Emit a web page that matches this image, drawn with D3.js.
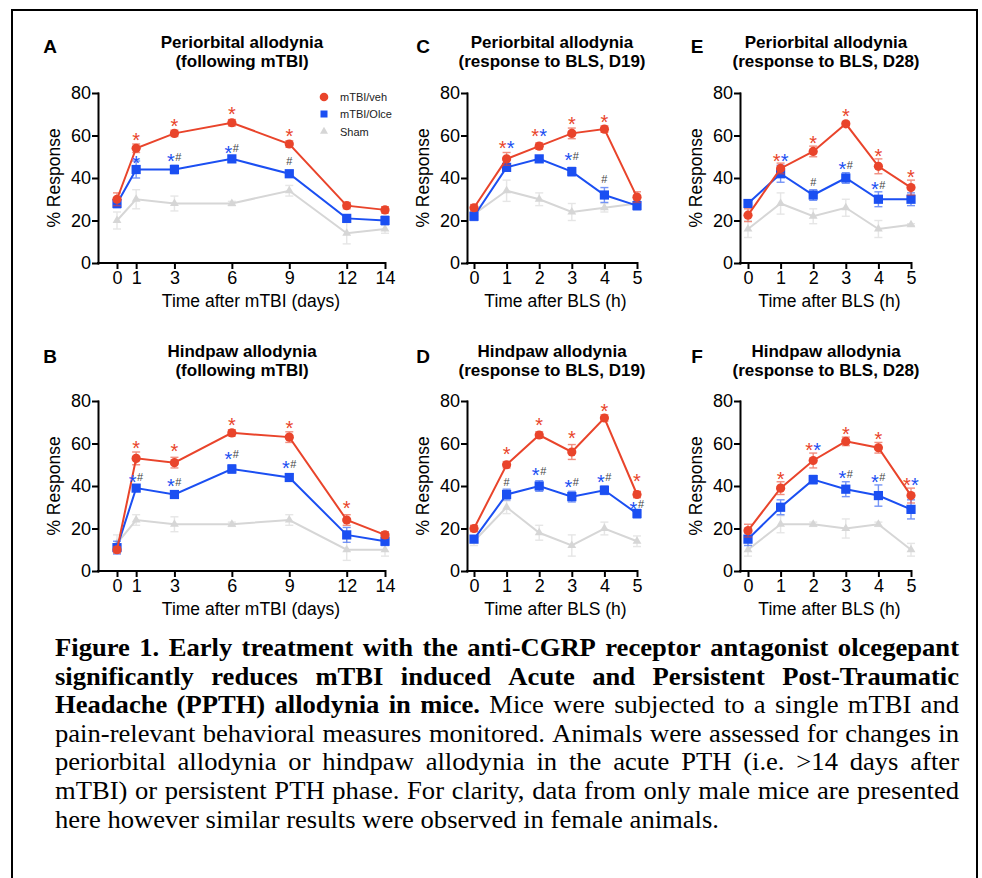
<!DOCTYPE html>
<html><head><meta charset="utf-8">
<script src="https://cdn.jsdelivr.net/npm/d3@7"></script>
<style>body{margin:0;background:#fff} svg{display:block}</style>
</head><body>
<svg id="fig" width="982" height="878"></svg>
<script>
// ---------------- DATA ----------------
const daysX = [0, 1, 3, 6, 9, 12, 14];
const hoursX = [0, 1, 2, 3, 4, 5];
const yTicks = [0, 20, 40, 60, 80];
const seriesNames = ["mTBI/veh", "mTBI/Olce", "Sham"];

// Panel A – periorbital, following mTBI
const A_veh  = [30, 54, 61, 66, 56, 27, 25];
const A_vehE = [3, 2, 1.5, 1.5, 1.5, 1.5, 1.5];
const A_olc  = [28, 44, 44, 49, 42, 21, 20];
const A_olcE = [2, 4, 2, 1.5, 1.5, 1.5, 2];
const A_sham = [20, 30, 28, 28, 34, 14, 16];
const A_shamE= [4, 4.5, 3.5, 1, 2.5, 5, 2];
const A_ann  = [[1,60,"R"],[1,49,"B"],[3,66.7,"R"],[3,50,"BH"],[6,72.2,"R"],[6,54,"BH"],[9,62,"R"],[9,47.8,"H"]];

// Panel B – hindpaw, following mTBI
const B_veh  = [10, 53, 51, 65, 63, 24, 17];
const B_vehE = [1.5, 3, 2.5, 1.5, 2.5, 2.5, 1.5];
const B_olc  = [11, 39, 36, 48, 44, 17, 14];
const B_olcE = [3, 1.5, 1.5, 2, 1.5, 3.5, 2];
const B_sham = [13, 24, 22, 22, 24, 10, 10];
const B_shamE= [4, 2.5, 3.5, 1, 2.5, 5, 3];
const B_ann  = [[1,59.9,"R"],[1,44.2,"BH"],[3,58.7,"R"],[3,41.9,"BH"],[6,70.6,"R"],[6,54.9,"BH"],[9,69.6,"R"],[9,50.5,"BH"],[12,31.7,"R"]];

// Panel C – periorbital, BLS D19
const C_veh  = [26, 49, 55, 61, 63, 31];
const C_vehE = [1.5, 3, 1.5, 2.5, 1.5, 2.5];
const C_olc  = [22, 45, 49, 43, 32, 27];
const C_olcE = [2, 1.5, 1.5, 2, 3.5, 2];
const C_sham = [23, 34, 30, 24, 26, 28];
const C_shamE= [2, 5, 3, 4, 2, 1.5];
const C_ann  = [[1,56.2,"RB"],[2,62,"RB"],[3,67.5,"R"],[3,50.5,"BH"],[4,68.5,"R"],[4,39.5,"H"]];

// Panel D – hindpaw, BLS D19
const D_veh  = [20, 50, 64, 56, 72, 36];
const D_vehE = [1.5, 1.5, 1.5, 3.5, 1.5, 1.5];
const D_olc  = [15, 36, 40, 35, 38, 27];
const D_olcE = [1.5, 2.5, 2.5, 2.5, 2, 2];
const D_sham = [14, 30, 18, 12, 20, 14];
const D_shamE= [2, 3, 3.5, 5, 3, 2.5];
const D_ann  = [[1,57.2,"R"],[1,41.7,"H"],[2,70.6,"R"],[2,47.2,"BH"],[3,64.9,"R"],[3,41.7,"BH"],[4,77.5,"R"],[4,44.1,"BH"],[5,44.4,"R"],[5,31.5,"BH"]];

// Panel E – periorbital, BLS D28
const E_veh  = [22.5, 44.5, 52.5, 65.5, 45.5, 35.5];
const E_vehE = [3, 2.5, 2.5, 1, 3.5, 3.5];
const E_olc  = [28, 42, 32, 40, 30, 30];
const E_olcE = [1.5, 4, 2.5, 2.5, 3.5, 3];
const E_sham = [16, 28, 22, 26, 16, 18];
const E_shamE= [4, 5, 3.5, 4, 4, 0.5];
const E_ann  = [[1,50.2,"RB"],[2,58.4,"R"],[2,38,"H"],[3,71.4,"R"],[3,46.3,"BH"],[4,52.5,"R"],[4,36.9,"BH"],[5,42.4,"R"]];

// Panel F – hindpaw, BLS D28
const F_veh  = [19, 39, 52, 61, 58, 35.5];
const F_vehE = [3, 3, 3.5, 2, 2.5, 3.5];
const F_olc  = [15, 30, 43, 38.5, 35.5, 29];
const F_olcE = [3, 3.5, 2, 3.5, 5, 4.5];
const F_sham = [10, 22, 22, 20, 22, 10];
const F_shamE= [3, 4, 1, 4.5, 1, 3];
const F_ann  = [[1,45.3,"R"],[2,59.1,"RB"],[3,66.6,"R"],[3,45.7,"BH"],[4,64.4,"R"],[4,44.2,"BH"],[5,42.6,"RB"]];

const captionLines = [
  [["Figure 1. Early treatment with the anti-CGRP receptor antagonist olcegepant", true]],
  [["significantly reduces mTBI induced Acute and Persistent Post-Traumatic", true]],
  [["Headache (PPTH) allodynia in mice.", true], ["Mice were subjected to a single mTBI and", false]],
  [["pain-relevant behavioral measures monitored. Animals were assessed for changes in", false]],
  [["periorbital allodynia or hindpaw allodynia in the acute PTH (i.e. >14 days after", false]],
  [["mTBI) or persistent PTH phase. For clarity, data from only male mice are presented", false]],
  [["here however similar results were observed in female animals.", false]]
];

// ---------------- STYLE / LAYOUT ----------------
const RED = "#E9442B", BLUE = "#1B4FF2", GRAY = "#D6D6D6", HASH = "#454545";
const SANS = "'Liberation Sans', Arial, Helvetica, sans-serif";
const SERIF = "'Liberation Serif', 'Times New Roman', Times, serif";

const svg = d3.select("#fig");
svg.append("path").attr("d", "M12,878V10H977V878")
  .attr("fill", "none").attr("stroke", "#000").attr("stroke-width", 2);

const cols = [
  {ax: 98,  r: [117, 385], tc: 242, lx: 50},
  {ax: 467, r: [474, 637], tc: 552, lx: 423},
  {ax: 740, r: [748, 911], tc: 826, lx: 697}
];
const rows = [
  {yb: 263, yt: 93,  t1: 48,  t2: 67,  lb: 53},
  {yb: 571, yt: 401, t1: 357, t2: 376, lb: 363}
];

const panels = [
  {label:"A", title:["Periorbital allodynia","(following mTBI)"], xlab:"Time after mTBI (days)", xs:daysX, c:0, r:0,
   veh:A_veh, vehE:A_vehE, olc:A_olc, olcE:A_olcE, sham:A_sham, shamE:A_shamE, ann:A_ann, legend:true},
  {label:"B", title:["Hindpaw allodynia","(following mTBI)"], xlab:"Time after mTBI (days)", xs:daysX, c:0, r:1,
   veh:B_veh, vehE:B_vehE, olc:B_olc, olcE:B_olcE, sham:B_sham, shamE:B_shamE, ann:B_ann},
  {label:"C", title:["Periorbital allodynia","(response to BLS, D19)"], xlab:"Time after BLS (h)", xs:hoursX, c:1, r:0,
   veh:C_veh, vehE:C_vehE, olc:C_olc, olcE:C_olcE, sham:C_sham, shamE:C_shamE, ann:C_ann},
  {label:"D", title:["Hindpaw allodynia","(response to BLS, D19)"], xlab:"Time after BLS (h)", xs:hoursX, c:1, r:1,
   veh:D_veh, vehE:D_vehE, olc:D_olc, olcE:D_olcE, sham:D_sham, shamE:D_shamE, ann:D_ann},
  {label:"E", title:["Periorbital allodynia","(response to BLS, D28)"], xlab:"Time after BLS (h)", xs:hoursX, c:2, r:0,
   veh:E_veh, vehE:E_vehE, olc:E_olc, olcE:E_olcE, sham:E_sham, shamE:E_shamE, ann:E_ann},
  {label:"F", title:["Hindpaw allodynia","(response to BLS, D28)"], xlab:"Time after BLS (h)", xs:hoursX, c:2, r:1,
   veh:F_veh, vehE:F_vehE, olc:F_olc, olcE:F_olcE, sham:F_sham, shamE:F_shamE, ann:F_ann}
];

panels.forEach(p => {
  const C = cols[p.c], R = rows[p.r];
  const g = svg.append("g").attr("font-family", SANS);
  const x = d3.scaleLinear().domain(d3.extent(p.xs)).range(C.r);
  const y = d3.scaleLinear().domain([0, 80]).range([R.yb, R.yt]);

  g.append("text").attr("x", C.lx).attr("y", R.lb).attr("text-anchor", "middle")
    .attr("font-size", 19).attr("font-weight", "bold").text(p.label);
  g.append("text").attr("x", C.tc).attr("y", R.t1).attr("text-anchor", "middle")
    .attr("font-size", 17).attr("font-weight", "bold").text(p.title[0]);
  g.append("text").attr("x", C.tc).attr("y", R.t2).attr("text-anchor", "middle")
    .attr("font-size", 17).attr("font-weight", "bold").text(p.title[1]);

  const ya = g.append("g").attr("transform", `translate(${C.ax},0)`)
    .call(d3.axisLeft(y).tickValues(yTicks).tickFormat(d3.format("d")).tickSize(5).tickSizeOuter(0).tickPadding(2));
  const xa = g.append("g").attr("transform", `translate(0,${R.yb})`)
    .call(d3.axisBottom(x).tickValues(p.xs).tickFormat(d3.format("d")).tickSize(5).tickSizeOuter(0).tickPadding(3));
  xa.select(".domain").attr("d", `M${C.ax},0H${C.r[1]}`);
  [ya, xa].forEach(a => {
    a.selectAll("path,line").attr("stroke", "#000").attr("stroke-width", 2).attr("stroke-linecap", "square");
    a.selectAll("text").attr("font-size", 18).attr("font-family", SANS).attr("fill", "#000");
  });
  xa.selectAll("text").attr("dy", "0.72em");

  g.append("text").attr("transform", `translate(${C.ax - 44.5},${(R.yb + R.yt) / 2}) rotate(-90)`)
    .attr("text-anchor", "middle").attr("dominant-baseline", "central")
    .attr("font-size", 17.5).text("% Response");
  g.append("text").attr("x", (C.r[0] + C.r[1]) / 2).attr("y", R.yb + 44)
    .attr("text-anchor", "middle").attr("font-size", 17.5).text(p.xlab);

  const series = [
    {vals: p.sham, err: p.shamE, color: GRAY, sym: "tri"},
    {vals: p.olc,  err: p.olcE,  color: BLUE, sym: "sq"},
    {vals: p.veh,  err: p.vehE,  color: RED,  sym: "circ"}
  ];
  const line = d3.line().x(d => x(d[0])).y(d => y(d[1]));
  series.forEach(s => {
    const pts = p.xs.map((xv, i) => [xv, s.vals[i], s.err[i]]);
    const sg = g.append("g");
    pts.forEach(d => {
      if (!d[2]) return;
      const px = x(d[0]), y0 = y(d[1] - d[2]), y1 = y(d[1] + d[2]);
      const eb = sg.append("g").attr("stroke", s.color).attr("stroke-width", 1.4).attr("opacity", 0.6);
      eb.append("line").attr("x1", px).attr("x2", px).attr("y1", y0).attr("y2", y1);
      eb.append("line").attr("x1", px - 4).attr("x2", px + 4).attr("y1", y0).attr("y2", y0);
      eb.append("line").attr("x1", px - 4).attr("x2", px + 4).attr("y1", y1).attr("y2", y1);
    });
    sg.append("path").datum(pts).attr("d", line).attr("fill", "none")
      .attr("stroke", s.color).attr("stroke-width", 2);
    pts.forEach(d => {
      const px = x(d[0]), py = y(d[1]);
      if (s.sym === "circ") sg.append("circle").attr("cx", px).attr("cy", py).attr("r", 4.6).attr("fill", s.color);
      else if (s.sym === "sq") sg.append("rect").attr("x", px - 4.6).attr("y", py - 4.6).attr("width", 9.2).attr("height", 9.2).attr("fill", s.color);
      else sg.append("path").attr("transform", `translate(${px},${py})`)
        .attr("d", d3.symbol(d3.symbolTriangle, 34)()).attr("fill", s.color);
    });
  });

  const ag = g.append("g");
  const star = (px, py, col) => ag.append("text").attr("x", px).attr("y", py + 11.5)
    .attr("text-anchor", "middle").attr("font-size", 20).attr("fill", col).text("*");
  const hash = (px, py) => ag.append("text").attr("x", px).attr("y", py + 4)
    .attr("text-anchor", "middle").attr("font-size", 11).attr("fill", HASH).text("#");
  p.ann.forEach(([xv, yv, code]) => {
    const px = x(xv), py = y(yv);
    if (code === "R") star(px, py, RED);
    else if (code === "B") star(px, py, BLUE);
    else if (code === "H") hash(px, py);
    else if (code === "RB") { star(px - 4, py, RED); star(px + 4, py, BLUE); }
    else if (code === "BH") { star(px - 3.5, py, BLUE); hash(px + 4, py); }
  });

  if (p.legend) {
    const lg = g.append("g").attr("font-size", 11).attr("fill", "#222");
    const ly = [97, 114, 131.5];
    lg.append("circle").attr("cx", 324).attr("cy", ly[0]).attr("r", 4.3).attr("fill", RED);
    lg.append("rect").attr("x", 320.5).attr("y", ly[1] - 3.5).attr("width", 7).attr("height", 7).attr("fill", BLUE);
    lg.append("path").attr("transform", `translate(324,${ly[2]})`).attr("d", d3.symbol(d3.symbolTriangle, 28)()).attr("fill", GRAY);
    seriesNames.forEach((n, i) => lg.append("text").attr("x", 340).attr("y", ly[i] + 4).text(n));
  }
});

// ---------------- CAPTION ----------------
const capFS = 26, capX0 = 55, capX1 = 959, capY0 = 656, capLH = 28.6;
const capG = svg.append("g").attr("font-family", SERIF).attr("font-size", capFS).attr("fill", "#000");
const probe = capG.append("text").text(captionLines[6].map(s => s[0]).join(" "));
const natural = probe.node().getComputedTextLength();
probe.remove();
const sx = 664 / natural;
captionLines.forEach((segs, i) => {
  const words = [];
  segs.forEach(([t, b]) => t.split(" ").filter(w => w).forEach(w => words.push({w, b})));
  const g = capG.append("g").attr("transform", `translate(${capX0},${capY0 + i * capLH}) scale(${sx},1)`);
  const els = words.map(d => g.append("text").attr("font-weight", d.b ? "bold" : "normal").text(d.w));
  const widths = els.map(e => e.node().getComputedTextLength());
  const W = (capX1 - capX0) / sx;
  const total = d3.sum(widths);
  const last = i === captionLines.length - 1;
  const gap = last ? capFS * 0.25 : (W - total) / (words.length - 1);
  let cx = 0;
  els.forEach((e, k) => { e.attr("x", cx); cx += widths[k] + gap; });
});
</script>
</body></html>
